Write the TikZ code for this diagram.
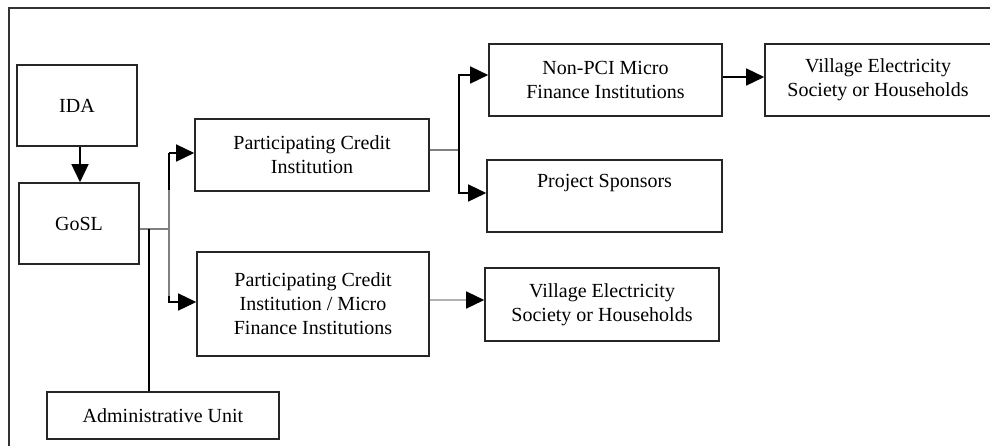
\documentclass[tikz,border=0pt]{standalone}
\usepackage{fontspec}
\setmainfont{Liberation Serif}
\usetikzlibrary{arrows.meta}
\begin{document}
\begin{tikzpicture}[x=1pt,y=-1pt,
  box/.style={draw=black!85,line width=1.6pt,align=center,inner sep=0pt,
    font=\fontsize{20}{24}\selectfont,text=black},
  arr/.style={line width=1.5pt,-{Triangle[length=18pt,width=17pt]}},
  gline/.style={line width=1.2pt,draw=gray}]
\useasboundingbox (0,0) rectangle (990,445);
\draw[line width=1.6pt,black!80] (9,460) -- (9,8) -- (1000,8);
\node[box,minimum width=120pt,minimum height=81pt] (ida) at (77,105.5) {IDA};
\node[box,minimum width=120pt,minimum height=81pt] (gosl) at (79,223.5) {GoSL};
\node[box,minimum width=234pt,minimum height=72pt] (pci) at (312,155) {Participating Credit\\Institution};
\node[box,minimum width=232pt,minimum height=104pt] (pcimfi) at (313,304) {Participating Credit\\Institution / Micro\\Finance Institutions};
\node[box,minimum width=233pt,minimum height=72pt] (npci) at (605.5,80) {Non-PCI Micro\\Finance Institutions};
\node[box,minimum width=235pt,minimum height=72pt] (ps) at (604.5,196) {Project Sponsors\\\strut};
\node[box,minimum width=226pt,minimum height=72pt] (ve1) at (878,80) {Village Electricity\\Society or Households};
\node[box,minimum width=234pt,minimum height=73pt] (ve2) at (602,304.5) {Village Electricity\\Society or Households};
\node[box,minimum width=232pt,minimum height=47pt] (adm) at (163,415.5) {Administrative Unit};
\coordinate (j1) at (169,229);
\coordinate (j2) at (149,229);
\coordinate (k1) at (459,150);
% IDA -> GoSL
\draw[arr] (ida.south -| 80,0) -- (gosl.north -| 80,0);
% GoSL branches
\draw[gline] (gosl.east |- j1) -- (j1);
\draw[line width=1.5pt] (j2) -- (j2 |- adm.north);
\draw[line width=1.5pt] (169,190) -- (169,153);
\draw[gline] (169,190) -- (j1) -- (169,296);
\draw[arr] (169,153) -- (pci.west |- 0,153);
\draw[arr] (169,296) -- (169,302) -- (pcimfi.west |- 0,302);
% PCI branches
\draw[gline] (pci.east |- k1) -- (k1);
\draw[arr] (k1) -- (459,75) -- (npci.west |- 0,75);
\draw[arr] (k1) -- (459,193) -- (ps.west |- 0,193);
% to villages
\draw[arr] (npci.east |- 0,77) -- (ve1.west |- 0,77);
\draw[line width=2.6pt,draw=gray!60] (pcimfi.east |- 0,300) -- (470,300);
\draw[arr] (468,300) -- (ve2.west |- 0,300);
\end{tikzpicture}
\end{document}
